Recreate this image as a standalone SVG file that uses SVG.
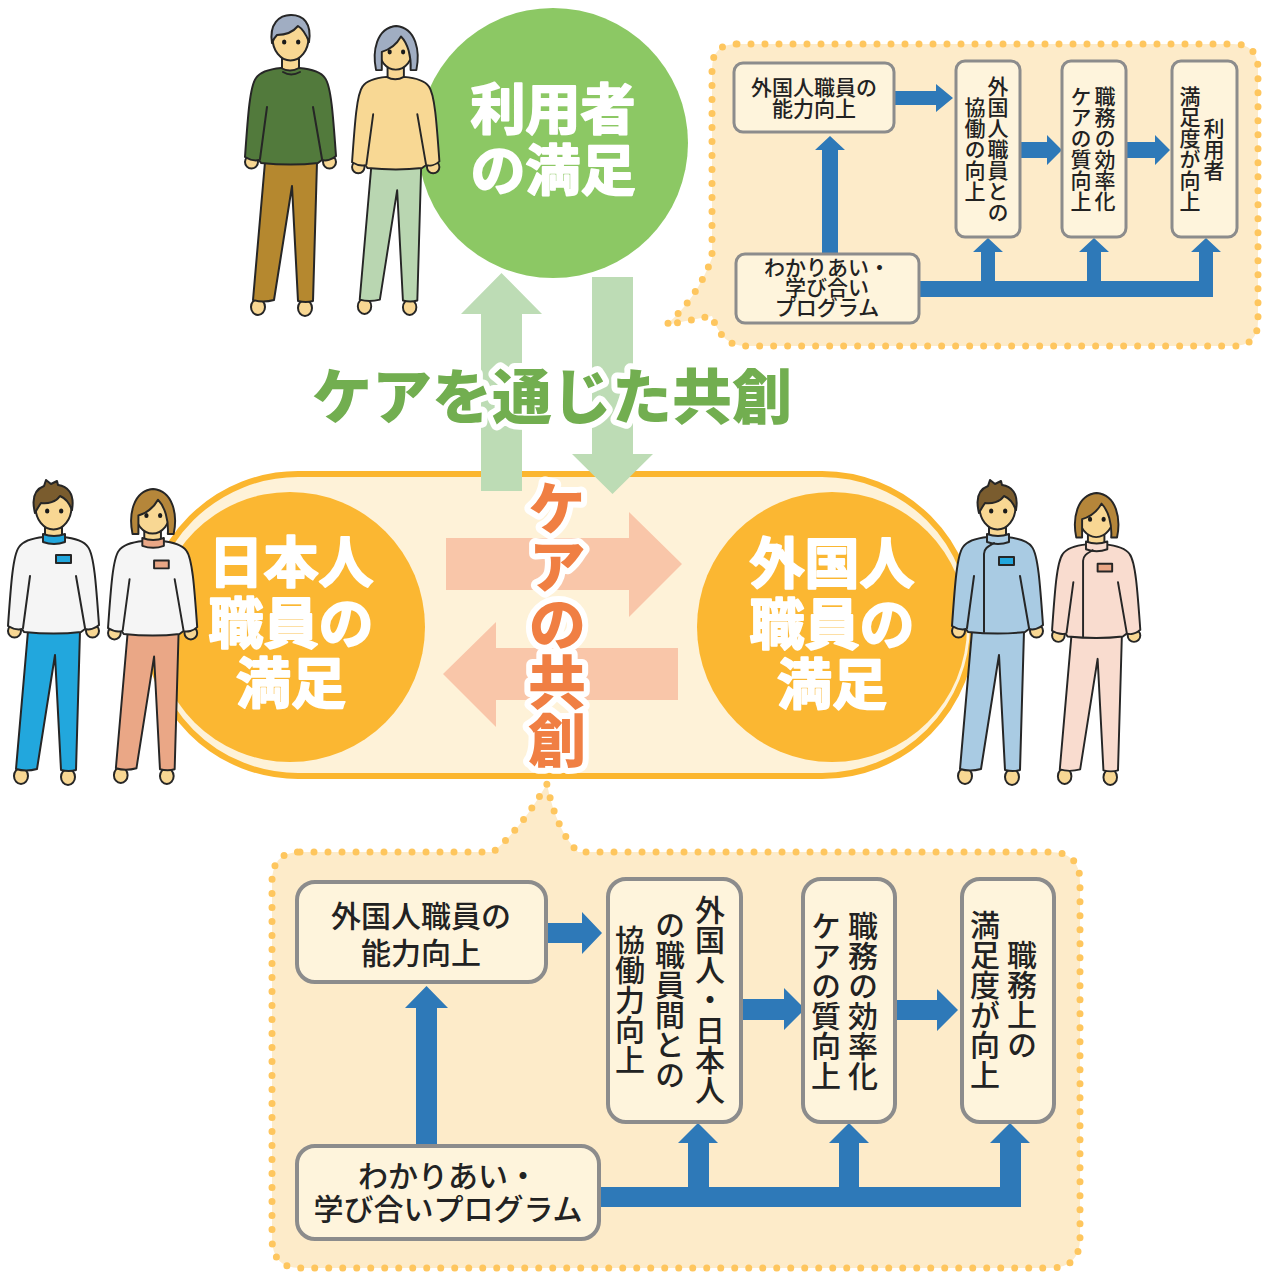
<svg xmlns="http://www.w3.org/2000/svg" xmlns:xlink="http://www.w3.org/1999/xlink" width="1264" height="1274" viewBox="0 0 1264 1274">
  <style>
    .jp { font-family: "Noto Sans CJK JP", "Noto Sans", sans-serif; }
    .box { fill: #fef4dc; stroke: #8c8c8c; }
    .box-s { stroke-width: 3; }
    .box-l { stroke-width: 4; }
    .blue { fill: #2e79b8; }
    .bubble { fill: #fdebc9; stroke: #fec65e; stroke-width: 7; stroke-linecap: round; stroke-linejoin: round; stroke-dasharray: 0 14; }
    .ol { stroke: #262626; stroke-width: 2; stroke-linejoin: round; stroke-linecap: round; }
    .line { fill: none; stroke: #262626; stroke-width: 2; stroke-linecap: round; }
    .skin { fill: #f8d793; }
    .eye { fill: #1a1a1a; }
    .big { font-weight: 700; fill: #fff; stroke: #fff; stroke-width: 2; stroke-linejoin: round; text-anchor: middle; }
    .t-s { font-size: 21px; fill: #222; text-anchor: middle; font-weight: 500; }
    .t-l { font-size: 30px; fill: #222; text-anchor: middle; font-weight: 500; }
    .vert { writing-mode: vertical-rl; }
    .title-g { font-size: 60px; font-weight: 900; fill: #72ae50; stroke: #fff; stroke-width: 12; stroke-linejoin: round; paint-order: stroke; text-anchor: middle; }
    .title-o { font-size: 58px; font-weight: 900; fill: #f07f43; stroke: #fff; stroke-width: 12; stroke-linejoin: round; paint-order: stroke; text-anchor: middle; }
  </style>
  <defs>
    <!-- shared figure parts, local coordinates (head top at y=0) -->
    <ellipse id="face" cx="44.5" cy="24" rx="18" ry="22.5"/>
    <path id="neck" d="M36,40 V58 H53 V40 Z"/>
    <path id="torso" d="M35,54 C25,55 14,58 10,64 C4,72 2,100 -1,143 C4,146 9,147 13,146 L15,149 C35,151 55,151 72,149 L76,146 C80,147 86,146 90,142 C87,100 85,72 79,64 C75,58 64,55 53,54 Q44,59 35,54 Z"/>
    <path id="armlines" d="M21,93 L14,145 M67,93 L76,145"/>
    <path id="legs" d="M19,148 L7,286 Q17,289 28,286 L46,172 L52,287 Q60,289 67,287 L71,148 Z"/>
    <path id="hands" d="M-1,148 a6.5,6.5 0 1 0 13,0 a6.5,6.5 0 1 0 -13,0 Z M77,148 a6.5,6.5 0 1 0 13,0 a6.5,6.5 0 1 0 -13,0 Z"/>
    <path id="feet" d="M5,293 a7,8 0 1 0 14,0 a7,8 0 1 0 -14,0 Z M52,294 a7,8 0 1 0 14,0 a7,8 0 1 0 -14,0 Z"/>
    <path id="eyes" d="M36,28 a2.2,2.6 0 1 0 4.4,0 a2.2,2.6 0 1 0 -4.4,0 Z M50,28 a2.2,2.6 0 1 0 4.4,0 a2.2,2.6 0 1 0 -4.4,0 Z"/>
    <path id="hair-m" d="M26,29 C23,10 33,1 45,1 C57,1 66,9 63,28 C60,20 57,15 52,12 C47,18 40,21 31,21 C29,23 27,26 26,29 Z"/>
    <path id="hair-sp" d="M26,30 C22,14 27,6 35,3 L37,-3 L42,1 L48,-2 L49,2 C58,3 66,10 63,27 C60,19 56,15 51,13 C47,19 39,21 32,20 C30,23 28,26 26,30 Z"/>
    <path id="hair-f" d="M24,47 C20,28 24,3 45,1 C66,3 70,28 66,47 L60,47 C61,33 57,19 50,12 C45,21 37,26 30,28 L30,47 Z"/>
    <path id="collar" d="M34,51 Q45,55 56,51 L56,59 Q45,63 34,59 Z"/>
  </defs>

  <!-- speech bubbles -->
  <g id="bubble-top">
    <path class="bubble" d="M737,44 H1233 Q1258,44 1258,69 V321 Q1258,346 1233,346 H745 Q722,346 712,316 Q690,320 666,325 Q696,300 712,258 V69 Q712,44 737,44 Z"/>
  </g>
  <g id="bubble-bottom">
    <path class="bubble" d="M300,852 H493 Q520,830 547,784 Q556,830 578,852 H1050 Q1080,852 1080,882 V1238 Q1080,1268 1050,1268 H300 Q272,1268 272,1238 V882 Q272,852 300,852 Z"/>
  </g>

  <!-- user satisfaction -->
  <g id="node-users">
    <circle cx="553" cy="143" r="135" fill="#8cc864"/>
    <text class="jp big" x="553" y="129" font-size="55">利用者</text>
    <text class="jp big" x="553" y="190" font-size="55">の満足</text>
  </g>

  <!-- staff capsule -->
  <g id="capsule">
    <rect x="147" y="474" width="826" height="302" rx="151" fill="#fef2d8" stroke="#fbb62f" stroke-width="6"/>
  </g>

  <g id="node-jp-staff">
    <circle cx="290" cy="627" r="135" fill="#fbb732"/>
    <text class="jp big" x="291" y="582" font-size="55">日本人</text>
    <text class="jp big" x="291" y="643" font-size="55">職員の</text>
    <text class="jp big" x="291" y="703" font-size="55">満足</text>
  </g>
  <g id="node-foreign-staff">
    <circle cx="832" cy="627" r="135" fill="#fbb732"/>
    <text class="jp big" x="832" y="583" font-size="55">外国人</text>
    <text class="jp big" x="832" y="644" font-size="55">職員の</text>
    <text class="jp big" x="832" y="704" font-size="55">満足</text>
  </g>

  <!-- connectors -->
  <g id="connectors">
    <!-- exchange between users and staff -->
    <path fill="#bddcb5" d="M481,491 V314 H461 L501.5,273 L542,314 H522 V491 Z"/>
    <path fill="#bddcb5" d="M592,277 H633 V454 H653 L612.5,494 L572,454 H592 Z"/>
    <!-- exchange between staff groups -->
    <path fill="#f9c6a9" d="M446,538 H629 V512 L682,564 L629,617 V590 H446 Z"/>
    <path fill="#f9c6a9" d="M678,648 H496 V622 L443,674 L496,727 V700 H678 Z"/>

    <!-- top bubble flow -->
    <path class="blue" d="M895,91 H936 V84 L953,98 L936,112 V105 H895 Z"/>
    <path class="blue" d="M1020,142 H1047 V135 L1062,150 L1047,165 V158 H1020 Z"/>
    <path class="blue" d="M1127,142 H1155 V135 L1170,150 L1155,165 V158 H1127 Z"/>
    <path class="blue" d="M822,253 V150 H815 L830,136 L845,150 H838 V253 Z"/>
    <path class="blue" d="M920,281 H981 V252 H973 L988,238 L1003,252 H995 V281 H1087 V252 H1079 L1094,238 L1109,252 H1101 V281 H1199 V252 H1191 L1206,238 L1221,252 H1213 V297 H920 Z"/>

    <!-- bottom bubble flow -->
    <path class="blue" d="M546,923 H582 V912 L602,933 L582,954 V943 H546 Z"/>
    <path class="blue" d="M742,999 H784 V988 L805,1009 L784,1030 V1020 H742 Z"/>
    <path class="blue" d="M897,1000 H937 V989 L958,1010 L937,1031 V1020 H897 Z"/>
    <path class="blue" d="M416,1145 V1008 H405 L426.5,986 L448,1008 H437 V1145 Z"/>
    <path class="blue" d="M599,1187 H688 V1143 H678 L698,1123 L718,1143 H709 V1187 H839 V1143 H829 L849,1123 L869,1143 H859 V1187 H1000 V1143 H990 L1010,1123 L1030,1143 H1021 V1207 H599 Z"/>
  </g>

  <!-- headings -->
  <text class="jp title-g" x="552" y="419">ケアを通じた共創</text>
  <text class="jp title-o vert" x="557" y="624">ケアの共創</text>

  <!-- top bubble boxes -->
  <g id="t-ability">
    <rect class="box box-s" x="734" y="63" width="160" height="69" rx="9"/>
    <text class="jp t-s"><tspan x="814" y="95">外国人職員の</tspan><tspan x="814" y="116">能力向上</tspan></text>
  </g>
  <g id="t-collab">
    <rect class="box box-s" x="956" y="61" width="64" height="176" rx="9"/>
    <text class="jp t-s vert"><tspan x="998" y="149">外国人職員との</tspan><tspan x="975" y="149">協働の向上</tspan></text>
  </g>
  <g id="t-quality">
    <rect class="box box-s" x="1062" y="61" width="64" height="176" rx="9"/>
    <text class="jp t-s vert"><tspan x="1105" y="149">職務の効率化</tspan><tspan x="1081" y="149">ケアの質向上</tspan></text>
  </g>
  <g id="t-users">
    <rect class="box box-s" x="1172" y="61" width="65" height="176" rx="9"/>
    <text class="jp t-s vert"><tspan x="1214" y="149">利用者</tspan><tspan x="1190" y="149">満足度が向上</tspan></text>
  </g>
  <g id="t-program">
    <rect class="box box-s" x="736" y="254" width="183" height="69" rx="9"/>
    <text class="jp t-s" font-size="19"><tspan x="827" y="275">わかりあい・</tspan><tspan x="827" y="295">学び合い</tspan><tspan x="827" y="315">プログラム</tspan></text>
  </g>

  <!-- bottom bubble boxes -->
  <g id="b-ability">
    <rect class="box box-l" x="297" y="882" width="249" height="100" rx="18"/>
    <text class="jp t-l"><tspan x="421" y="927">外国人職員の</tspan><tspan x="421" y="964">能力向上</tspan></text>
  </g>
  <g id="b-collab">
    <rect class="box box-l" x="608" y="879" width="133" height="243" rx="18"/>
    <text class="jp t-l vert"><tspan x="710" y="1000">外国人・日本人</tspan><tspan x="670" y="1000">の職員間との</tspan><tspan x="630" y="1000">協働力向上</tspan></text>
  </g>
  <g id="b-quality">
    <rect class="box box-l" x="803" y="879" width="92" height="243" rx="18"/>
    <text class="jp t-l vert"><tspan x="863" y="1001">職務の効率化</tspan><tspan x="826" y="1001">ケアの質向上</tspan></text>
  </g>
  <g id="b-job">
    <rect class="box box-l" x="962" y="879" width="92" height="243" rx="18"/>
    <text class="jp t-l vert"><tspan x="1022" y="1000">職務上の</tspan><tspan x="985" y="1000">満足度が向上</tspan></text>
  </g>
  <g id="b-program">
    <rect class="box box-l" x="297" y="1146" width="302" height="93" rx="18"/>
    <text class="jp t-l" font-size="28"><tspan x="448" y="1187">わかりあい・</tspan><tspan x="448" y="1220">学び合いプログラム</tspan></text>
  </g>

  <!-- people -->
  <g id="person-elder-man" transform="translate(246,14)">
    <use href="#feet" class="ol skin"/>
    <use href="#legs" class="ol" fill="#b5882f"/>
    <use href="#hands" class="ol skin"/>
    <use href="#neck" class="ol skin"/>
    <use href="#torso" class="ol" fill="#527a3c"/>
    <use href="#armlines" class="line"/>
    <path class="line" d="M37,58 Q45,63 54,58"/>
    <use href="#face" class="ol skin"/>
    <use href="#hair-m" class="ol" fill="#a0adc2"/>
    <use href="#eyes" class="eye"/>
  </g>
  <g id="person-elder-woman" transform="translate(353,25) scale(0.96)">
    <use href="#feet" class="ol skin"/>
    <use href="#legs" class="ol" fill="#b9d6b1"/>
    <use href="#hands" class="ol skin"/>
    <use href="#neck" class="ol skin"/>
    <use href="#torso" class="ol" fill="#f8d894"/>
    <use href="#armlines" class="line"/>
    <use href="#face" class="ol skin"/>
    <use href="#hair-f" class="ol" fill="#a0adc2"/>
    <use href="#eyes" class="eye"/>
  </g>
  <g id="person-jp-man" transform="translate(9,483)">
    <use href="#feet" class="ol skin"/>
    <use href="#legs" class="ol" fill="#22a7dd"/>
    <use href="#hands" class="ol skin"/>
    <use href="#neck" class="ol skin"/>
    <use href="#torso" class="ol" fill="#f5f5f5"/>
    <use href="#armlines" class="line"/>
    <use href="#collar" class="ol" fill="#22a7dd"/>
    <rect class="ol" x="47" y="72" width="15" height="8" fill="#22a7dd"/>
    <use href="#face" class="ol skin"/>
    <use href="#hair-sp" class="ol" fill="#7a5c2e"/>
    <use href="#eyes" class="eye"/>
  </g>
  <g id="person-jp-woman" transform="translate(109,488) scale(0.98)">
    <use href="#feet" class="ol skin"/>
    <use href="#legs" class="ol" fill="#eaa786"/>
    <use href="#hands" class="ol skin"/>
    <use href="#neck" class="ol skin"/>
    <use href="#torso" class="ol" fill="#f5f5f5"/>
    <use href="#armlines" class="line"/>
    <use href="#collar" class="ol" fill="#eaa786"/>
    <rect class="ol" x="46" y="74" width="15" height="8" fill="#eaa786"/>
    <use href="#face" class="ol skin"/>
    <use href="#hair-f" class="ol" fill="#b5863a"/>
    <use href="#eyes" class="eye"/>
  </g>
  <g id="person-foreign-man" transform="translate(953,483)">
    <use href="#feet" class="ol skin"/>
    <use href="#legs" class="ol" fill="#a9cbe3"/>
    <use href="#hands" class="ol skin"/>
    <use href="#neck" class="ol skin"/>
    <use href="#torso" class="ol" fill="#a9cbe3"/>
    <use href="#armlines" class="line"/>
    <use href="#collar" class="ol" fill="#a9cbe3"/>
    <path class="line" d="M41,60 C36,63 31,65 31,71 L31,149"/>
    <rect class="ol" x="46" y="74" width="15" height="8" fill="#22a7dd"/>
    <use href="#face" class="ol skin"/>
    <use href="#hair-sp" class="ol" fill="#7a5c2e"/>
    <use href="#eyes" class="eye"/>
  </g>
  <g id="person-foreign-woman" transform="translate(1053,492) scale(0.97)">
    <use href="#feet" class="ol skin"/>
    <use href="#legs" class="ol" fill="#f9dccf"/>
    <use href="#hands" class="ol skin"/>
    <use href="#neck" class="ol skin"/>
    <use href="#torso" class="ol" fill="#f9dccf"/>
    <use href="#armlines" class="line"/>
    <use href="#collar" class="ol" fill="#f9dccf"/>
    <path class="line" d="M41,60 C36,63 31,65 31,71 L31,149"/>
    <rect class="ol" x="46" y="74" width="15" height="8" fill="#eaa786"/>
    <use href="#face" class="ol skin"/>
    <use href="#hair-f" class="ol" fill="#b5863a"/>
    <use href="#eyes" class="eye"/>
  </g>
</svg>
